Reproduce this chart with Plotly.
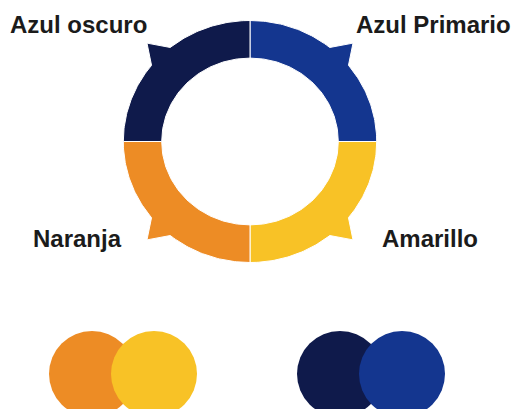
import numpy as np
import plotly.graph_objects as go

# ---- data ----
categories = ["Azul Primario", "Amarillo", "Naranja", "Azul oscuro"]   # clockwise from 12 o'clock
values = [25, 25, 25, 25]
colors = {
    "Azul oscuro": "#0f1a4b",
    "Azul Primario": "#14368f",
    "Amarillo": "#f8c226",
    "Naranja": "#ed8c25",
}
swatch_pairs = [["Naranja", "Amarillo"], ["Azul oscuro", "Azul Primario"]]

# ---- layout / geometry constants ----
W, H = 521, 409
cx, cy = 250.0, 141.5
RX, RY = 126.7, 121.0
rx, ry = 88.3, 83.4
spike_k = 1.15
spike_half = 6.0
text_color = "#1b1b1b"
font_family = "Liberation Sans, Arial, sans-serif"
font_size = 24

fig = go.Figure()


def pt(angle_deg, ax, ay):
    a = np.deg2rad(angle_deg)
    return cx + ax * np.cos(a), cy - ay * np.sin(a)


total = sum(values)
start = 90.0
for cat, val in zip(categories, values):
    sweep = 360.0 * val / total
    end = start - sweep
    mid = (start + end) / 2
    xs, ys = [], []
    for a in np.linspace(start, mid + spike_half, 40):
        x, y = pt(a, RX, RY); xs.append(x); ys.append(y)
    x, y = pt(mid, RX * spike_k, RY * spike_k); xs.append(x); ys.append(y)
    for a in np.linspace(mid - spike_half, end, 40):
        x, y = pt(a, RX, RY); xs.append(x); ys.append(y)
    for a in np.linspace(end, start, 80):
        x, y = pt(a, rx, ry); xs.append(x); ys.append(y)
    xs.append(xs[0]); ys.append(ys[0])
    fig.add_trace(go.Scatter(
        x=xs, y=ys, mode="lines", fill="toself",
        fillcolor=colors[cat], line=dict(color="white", width=1),
        hoverinfo="text", text=cat, showlegend=False,
    ))
    start = end

# labels (centre positions)
label_pos = {
    "Azul oscuro": (78.5, 24),
    "Azul Primario": (433.5, 24),
    "Naranja": (77.5, 238),
    "Amarillo": (429.5, 238),
}
for cat in categories:
    x, y = label_pos[cat]
    fig.add_annotation(
        x=x, y=y, text="<b>%s</b>" % cat, showarrow=False,
        xanchor="center", yanchor="middle",
        font=dict(family=font_family, size=font_size, color=text_color),
    )

# swatch circles
pair_centers = [123, 371]
offset = 31
for (left, right), pcx in zip(swatch_pairs, pair_centers):
    for cat, dx in ((left, -offset), (right, offset)):
        fig.add_trace(go.Scatter(
            x=[pcx + dx], y=[374], mode="markers",
            marker=dict(size=86, color=colors[cat], line=dict(width=0)),
            hoverinfo="text", text=cat, showlegend=False, cliponaxis=False,
        ))

fig.update_layout(
    width=W, height=H,
    margin=dict(l=0, r=0, t=0, b=0),
    paper_bgcolor="white", plot_bgcolor="white",
    xaxis=dict(range=[0, W], visible=False, fixedrange=True),
    yaxis=dict(range=[H, 0], visible=False, fixedrange=True),
)

fig.write_html(
    "out.html",
    config={"displayModeBar": False},
    post_script="document.body.style.margin='0';document.body.style.padding='0';document.body.style.overflow='hidden';",
)
